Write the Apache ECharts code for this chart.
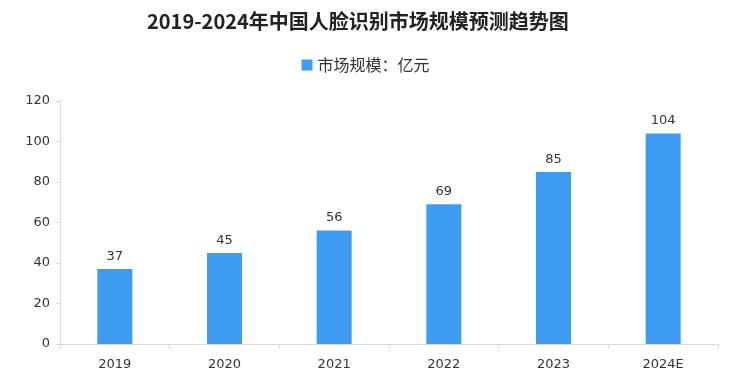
<!DOCTYPE html>
<html><head><meta charset="utf-8">
<script src="https://cdn.jsdelivr.net/npm/echarts@6/dist/echarts.min.js"></script>
<style>html,body{margin:0;padding:0;background:#fff}#c{width:731px;height:384px}</style>
</head><body><div id="c"></div>
<script>
var categories = ['2019','2020','2021','2022','2023','2024E'];
var values = [37, 45, 56, 69, 85, 104];
var seriesName = '市场规模：亿元';
var titleText = '2019-2024年中国人脸识别市场规模预测趋势图';

var chart = echarts.init(document.getElementById('c'));
chart.setOption({
  animation: false,
  backgroundColor: '#fff',
  title: {
    text: titleText, left: 142, top: 6,
    textStyle: {fontFamily: 'Noto Sans CJK SC', fontWeight: 'bold', fontSize: 20, color: '#222'}
  },
  legend: {
    data: [seriesName], top: 52, left: 'center', icon: 'rect',
    itemWidth: 11, itemHeight: 11, itemGap: 8,
    textStyle: {fontFamily: 'Noto Sans CJK SC', fontSize: 16, color: '#333'}
  },
  grid: {left: 60, right: 13, top: 101, bottom: 40},
  xAxis: {
    type: 'category', data: categories,
    axisLine: {lineStyle: {color: '#d9d9d9'}},
    axisTick: {show: true, alignWithLabel: false, length: 5, lineStyle: {color: '#d9d9d9'}},
    axisLabel: {color: '#333', fontSize: 13, fontFamily: 'DejaVu Sans', margin: 14}
  },
  yAxis: {
    type: 'value', min: 0, max: 120, interval: 20,
    axisLine: {show: true, lineStyle: {color: '#d9d9d9'}},
    axisTick: {show: true, length: 4, lineStyle: {color: '#d9d9d9'}},
    splitLine: {show: false},
    axisLabel: {color: '#333', fontSize: 13, fontFamily: 'DejaVu Sans', margin: 10}
  },
  series: [{
    name: seriesName, type: 'bar', data: values, barWidth: 35,
    itemStyle: {color: '#3d9bf2'},
    label: {show: true, position: 'top', distance: 6, color: '#333', fontSize: 13, fontFamily: 'DejaVu Sans'}
  }]
});
</script></body></html>
